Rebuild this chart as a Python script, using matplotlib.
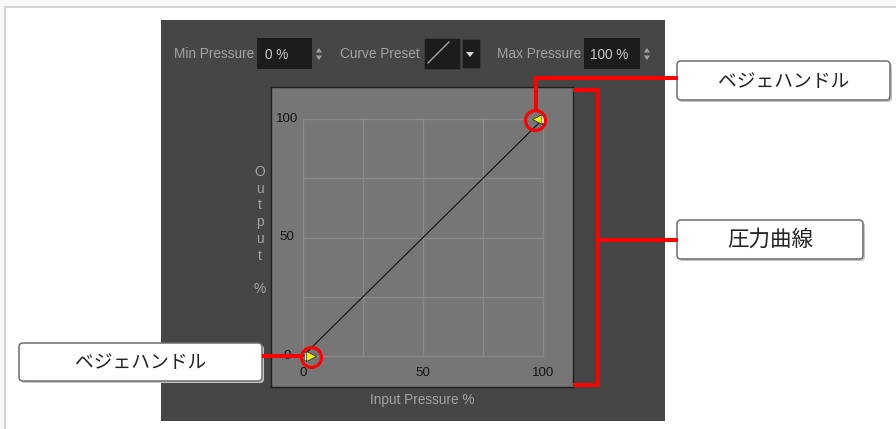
import matplotlib
matplotlib.use("Agg")
import matplotlib.pyplot as plt
from matplotlib.patches import Rectangle, FancyBboxPatch, Polygon
from matplotlib.transforms import ScaledTranslation
from matplotlib.path import Path

# ---------------- data ----------------
input_pressure = [0, 100]          # curve x values (Input Pressure %)
output_pressure = [0, 100]         # curve y values (Output %)
grid_values = [0, 25, 50, 75, 100]
tick_values = [0, 50, 100]
handle_x = [0, 100]                # bezier handle anchors
handle_y = [0, 100]
min_pressure_label = "0 %"
max_pressure_label = "100 %"
callout_handle = "ベジェハンドル"
callout_curve = "圧力曲線"
x_label = "Input Pressure %"
y_label_letters = ["O", "u", "t", "p", "u", "t", "", "%"]

UI_FONT = ["Liberation Sans", "DejaVu Sans"]
JP_FONT = ["Noto Sans CJK JP", "DejaVu Sans"]

W, H = 896, 429
fig = plt.figure(figsize=(W / 100, H / 100), dpi=100, facecolor="white")

# background overlay (pixel coordinates)
bg = fig.add_axes([0, 0, 1, 1], zorder=0)
bg.set_xlim(0, W); bg.set_ylim(H, 0); bg.axis("off")

# page frame
bg.add_patch(Rectangle((0, 0), W, 6, color="#f8f8f8", lw=0))
bg.add_patch(Rectangle((0, 0), 4, H, color="#f8f8f8", lw=0))
bg.plot([4, W], [6.5, 6.5], color="#d4d4d4", lw=1.4, solid_capstyle="butt")
bg.plot([4.5, 4.5], [6, H], color="#d4d4d4", lw=1.4, solid_capstyle="butt")

# dark panel
bg.add_patch(Rectangle((161, 20), 504, 401, color="#464646", lw=0))

# toolbar
ui_col = "#a3a3a3"
val_col = "#c8c8c8"
bg.text(174, 54, "Min Pressure", color=ui_col, fontsize=9.8, family=UI_FONT, va="center", ha="left")
bg.add_patch(Rectangle((257, 38), 55, 31, color="#1c1c1c", lw=0))
bg.text(265, 55, min_pressure_label, color=val_col, fontsize=9.8, family=UI_FONT, va="center", ha="left")

bg.text(340, 54, "Curve Preset", color=ui_col, fontsize=9.8, family=UI_FONT, va="center", ha="left")
bg.add_patch(Rectangle((424, 38), 36, 31, facecolor="#1c1c1c", edgecolor="#3a3a3a", lw=0.7))
bg.plot([428, 449], [63, 42], color="#b0b0b0", lw=0.9)
bg.add_patch(Rectangle((462, 39), 18, 29, facecolor="#1c1c1c", edgecolor="#3a3a3a", lw=0.7))
bg.add_patch(Polygon([(466, 52), (474, 52), (470, 57)], closed=True, color="#d8d8d8", lw=0))

bg.text(497, 54, "Max Pressure", color=ui_col, fontsize=9.8, family=UI_FONT, va="center", ha="left")
bg.add_patch(Rectangle((584, 38), 56, 31, color="#1c1c1c", lw=0))
bg.text(590, 55, max_pressure_label, color=val_col, fontsize=9.8, family=UI_FONT, va="center", ha="left")

for sx in (319, 647):
    bg.add_patch(Polygon([(sx - 3, 52.5), (sx + 3, 52.5), (sx, 48)], closed=True, color=ui_col, lw=0))
    bg.add_patch(Polygon([(sx - 3, 55.5), (sx + 3, 55.5), (sx, 60)], closed=True, color=ui_col, lw=0))

# axis labels
for i, ch in enumerate(y_label_letters):
    if ch:
        bg.text(260, 172 + i * 16.7, ch, color=ui_col, fontsize=10, family=UI_FONT, ha="center", va="center")
bg.text(422, 400, x_label, color=ui_col, fontsize=9.8, family=UI_FONT, ha="center", va="center")

# ---------------- main curve axes ----------------
gx0, gy0, spx, spy = 303, 356, 2.40, 2.37
ax = fig.add_axes([271 / W, 1 - 387 / H, 302 / W, 300 / H], zorder=2)
ax.set_facecolor("#767676")
ax.set_xlim((271 - gx0) / spx, (573 - gx0) / spx)
ax.set_ylim((gy0 - 387) / spy, (gy0 - 87) / spy)
ax.set_xticks([]); ax.set_yticks([])
for s in ax.spines.values():
    s.set_color("#1e1e1e"); s.set_linewidth(1.0)

for v in grid_values:
    ax.plot([v, v], [grid_values[0], grid_values[-1]], color="#8a8a8a", lw=1.0, zorder=1)
    ax.plot([grid_values[0], grid_values[-1]], [v, v], color="#8a8a8a", lw=1.0, zorder=1)

for v in tick_values:
    ax.text(v, (gy0 - 373) / spy, str(v), color="#141414", fontsize=9.6, family=UI_FONT, ha="center", va="center")
    ax.text((287 - gx0) / spx, v, str(v), color="#141414", fontsize=9.6, family=UI_FONT, ha="center", va="center")

ax.plot(input_pressure, output_pressure, color="#111111", lw=0.8, zorder=3)


def off(dx_px, dy_px):
    return ax.transData + ScaledTranslation(dx_px / 100, dy_px / 100, fig.dpi_scale_trans)


rect_marker = Path([(-0.4, -1), (0.4, -1), (0.4, 1), (-0.4, 1), (-0.4, -1)])
yellow = "#f2ee00"
# bottom handle
ax.plot(handle_x[:1], handle_y[:1], marker=rect_marker, ms=6.2, mfc="white", mec="#222222", mew=0.4,
        ls="none", transform=off(2.5, 0), zorder=4)
ax.plot(handle_x[:1], handle_y[:1], marker=">", ms=6.5, mfc=yellow, mec="#222222", mew=0.5,
        ls="none", transform=off(8, 0), zorder=4)
# top handle
ax.plot(handle_x[1:], handle_y[1:], marker="<", ms=6.5, mfc=yellow, mec="#222222", mew=0.5,
        ls="none", transform=off(-6, 0), zorder=4)
ax.plot(handle_x[1:], handle_y[1:], marker=rect_marker, ms=6.2, mfc="white", mec="#222222", mew=0.4,
        ls="none", transform=off(0, 0), zorder=4)

# red highlight circles
ax.plot(handle_x[:1], handle_y[:1], marker="o", ms=14.3, mfc="none", mec="#ff0000", mew=2.3,
        ls="none", transform=off(8, -1), zorder=5, clip_on=False)
ax.plot(handle_x[1:], handle_y[1:], marker="o", ms=14.3, mfc="none", mec="#ff0000", mew=2.3,
        ls="none", transform=off(-8, -1), zorder=5, clip_on=False)

# ---------------- foreground callouts ----------------
fg = fig.add_axes([0, 0, 1, 1], zorder=5)
fg.set_xlim(0, W); fg.set_ylim(H, 0); fg.axis("off")

red_kw = dict(color="#ff0000", lw=2.9, solid_joinstyle="miter", solid_capstyle="butt")
fg.plot([535.5, 535.5, 678], [110, 78, 78], **red_kw)
fg.plot([573, 597.5, 597.5, 573], [90, 90, 385, 385], **red_kw)
fg.plot([597.5, 678], [240, 240], **red_kw)
fg.plot([262, 300], [356, 356], **red_kw)


def callout(x0, y0, x1, y1, text, size):
    fg.add_patch(FancyBboxPatch((x0 + 2, y0 + 2), x1 - x0, y1 - y0,
                                boxstyle="round,pad=0,rounding_size=4",
                                facecolor="#c4c4c4", edgecolor="none"))
    fg.add_patch(FancyBboxPatch((x0, y0), x1 - x0, y1 - y0,
                                boxstyle="round,pad=0,rounding_size=4",
                                facecolor="white", edgecolor="#6e6e6e", lw=1.1))
    fg.text((x0 + x1) / 2, (y0 + y1) / 2 + 0.5, text, fontsize=size, family=JP_FONT,
            color="#222222", ha="center", va="center")


callout(677, 61, 890, 100, callout_handle, 13.5)
callout(677, 220, 863, 259, callout_curve, 15.5)
callout(19, 343, 262, 381, callout_handle, 13.5)

fig.savefig("out.png", dpi=100, facecolor="white")
